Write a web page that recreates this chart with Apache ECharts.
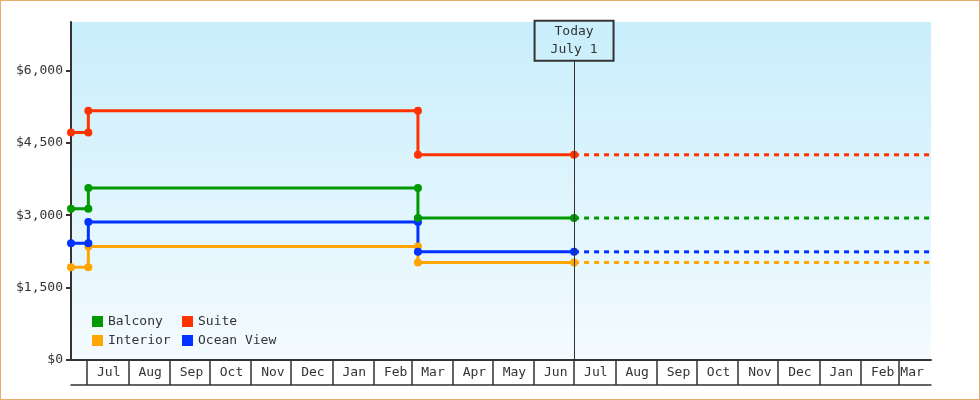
<!DOCTYPE html>
<html>
<head>
<meta charset="utf-8">
<script src="https://cdn.jsdelivr.net/npm/echarts@6/dist/echarts.min.js"></script>
<style>
  html, body { margin: 0; padding: 0; background: #fff; }
  #wrap { position: relative; width: 980px; height: 400px; }
  #chart { width: 980px; height: 400px; }
  #frame { position: absolute; left: 0; top: 0; width: 980px; height: 400px; box-sizing: border-box; border: 1px solid #e8ad6a; pointer-events: none; }
</style>
</head>
<body>
<div id="wrap"><div id="chart"></div><div id="frame"></div></div>
<script>
var monthNames = ['Jan', 'Feb', 'Mar', 'Apr', 'May', 'Jun', 'Jul', 'Aug', 'Sep', 'Oct', 'Nov', 'Dec'];
var axisStart = '2021-06-19';
var axisEnd = '2023-03-25T12:00';
var today = '2022-07-01';
var todayLabel = 'Today\nJuly 1';

// price history points (step changes in early Jul and early Mar)
var dates = ['2021-06-19', '2021-07-02', '2021-07-02', '2022-03-06', '2022-03-06', '2022-07-01'];
var balcony = [3130, 3130, 3560, 3560, 2940, 2940];
var suite = [4710, 4710, 5160, 5160, 4250, 4250];
var interior = [1920, 1920, 2350, 2350, 2020, 2020];
var oceanView = [2420, 2420, 2860, 2860, 2240, 2240];

var FONT = 'DejaVu Sans Mono';
var TEXT = '#333';
var DAY = 86400000;

var zip = function(vals) {
  return dates.map(function(d, i) { return [d, vals[i]]; });
};
var projection = function(vals) {
  var last = vals[vals.length - 1];
  return [[today, last], [axisEnd, last]];
};

var lineSeries = function(name, vals, color) {
  return {
    name: name,
    type: 'line',
    data: zip(vals),
    symbol: 'circle',
    symbolSize: 8,
    showAllSymbol: true,
    lineStyle: { width: 3, color: color },
    itemStyle: { color: color },
    z: 3
  };
};
var dashSeries = function(name, vals, color) {
  return {
    name: name + ' projection',
    type: 'line',
    data: projection(vals),
    symbol: 'none',
    lineStyle: { width: 3, color: color, type: [5, 5] },
    itemStyle: { color: color },
    z: 2
  };
};

var chart = echarts.init(document.getElementById('chart'));

var series = [
  lineSeries('Interior', interior, '#ffa500'),
  lineSeries('Ocean View', oceanView, '#0033ff'),
  lineSeries('Balcony', balcony, '#009900'),
  lineSeries('Suite', suite, '#ff3300'),
  dashSeries('Interior', interior, '#ffa500'),
  dashSeries('Ocean View', oceanView, '#0033ff'),
  dashSeries('Balcony', balcony, '#009900'),
  dashSeries('Suite', suite, '#ff3300')
];

// today marker line with boxed label on top
series[0].markLine = {
  silent: true,
  symbol: 'none',
  lineStyle: { color: TEXT, width: 1, type: 'solid' },
  label: {
    show: true,
    position: 'end',
    distance: 0,
    formatter: todayLabel,
    fontFamily: FONT,
    fontSize: 13,
    color: TEXT,
    lineHeight: 18,
    padding: [2, 16],
    borderColor: TEXT,
    borderWidth: 1,
    backgroundColor: 'transparent'
  },
  emphasis: { disabled: true },
  data: [[{ coord: [today, 0] }, { coord: [today, 6200] }]]
};

var legendBase = {
  orient: 'vertical',
  icon: 'rect',
  itemWidth: 11,
  itemHeight: 11,
  itemGap: 6,
  padding: 0,
  top: 315,
  selectedMode: false,
  textStyle: { fontFamily: FONT, fontSize: 13, color: TEXT }
};

var endTime = new Date(axisEnd).getTime();

chart.setOption({
  animation: false,
  textStyle: { fontFamily: FONT },
  grid: {
    left: 71,
    right: 49,
    top: 22,
    bottom: 40,
    show: true,
    borderWidth: 0,
    backgroundColor: {
      type: 'linear', x: 0, y: 0, x2: 0, y2: 1,
      colorStops: [
        { offset: 0, color: '#c9eefc' },
        { offset: 1, color: '#f4fbff' }
      ]
    }
  },
  legend: [
    Object.assign({}, legendBase, { left: 92, data: ['Balcony', 'Interior'] }),
    Object.assign({}, legendBase, { left: 182, data: ['Suite', 'Ocean View'] })
  ],
  xAxis: [
    {
      type: 'time',
      min: axisStart,
      max: axisEnd,
      splitNumber: 22,
      minInterval: 28 * DAY,
      maxInterval: 31 * DAY,
      axisLine: { lineStyle: { color: TEXT, width: 2 } },
      axisTick: { show: true, length: 25, lineStyle: { color: TEXT, width: 1.5 } },
      splitLine: { show: false },
      axisLabel: {
        show: true,
        margin: 6,
        align: 'left',
        fontFamily: FONT,
        fontSize: 13,
        color: TEXT,
        showMinLabel: false,
        showMaxLabel: false,
        hideOverlap: false,
        formatter: function(v) {
          var name = monthNames[new Date(v).getMonth()];
          // the last, partial month gets squeezed to fit
          return endTime - v < 28 * DAY ? '{e|' + name + '}' : '{m|' + name + '}';
        },
        rich: {
          m: { fontFamily: FONT, fontSize: 13, color: TEXT, padding: [0, 0, 0, 10] },
          e: { fontFamily: FONT, fontSize: 13, color: TEXT, padding: [0, 0, 0, 2] }
        }
      }
    },
    {
      type: 'time',
      min: axisStart,
      max: axisEnd,
      position: 'bottom',
      offset: 25,
      axisLine: { lineStyle: { color: TEXT, width: 1.5 } },
      axisTick: { show: false },
      axisLabel: { show: false },
      splitLine: { show: false }
    }
  ],
  yAxis: {
    type: 'value',
    min: 0,
    max: 7000,
    interval: 1500,
    axisLine: { show: true, lineStyle: { color: TEXT, width: 2 } },
    axisTick: { show: true, length: 5, lineStyle: { color: TEXT, width: 2 } },
    splitLine: { show: false },
    axisLabel: {
      margin: 8,
      fontFamily: FONT,
      fontSize: 13,
      color: TEXT,
      showMaxLabel: false,
      formatter: function(v) {
        if (v % 1500 !== 0) return '';
        return '$' + v.toString().replace(/\B(?=(\d{3})+(?!\d))/g, ',');
      }
    }
  },
  series: series
});
</script>
</body>
</html>
